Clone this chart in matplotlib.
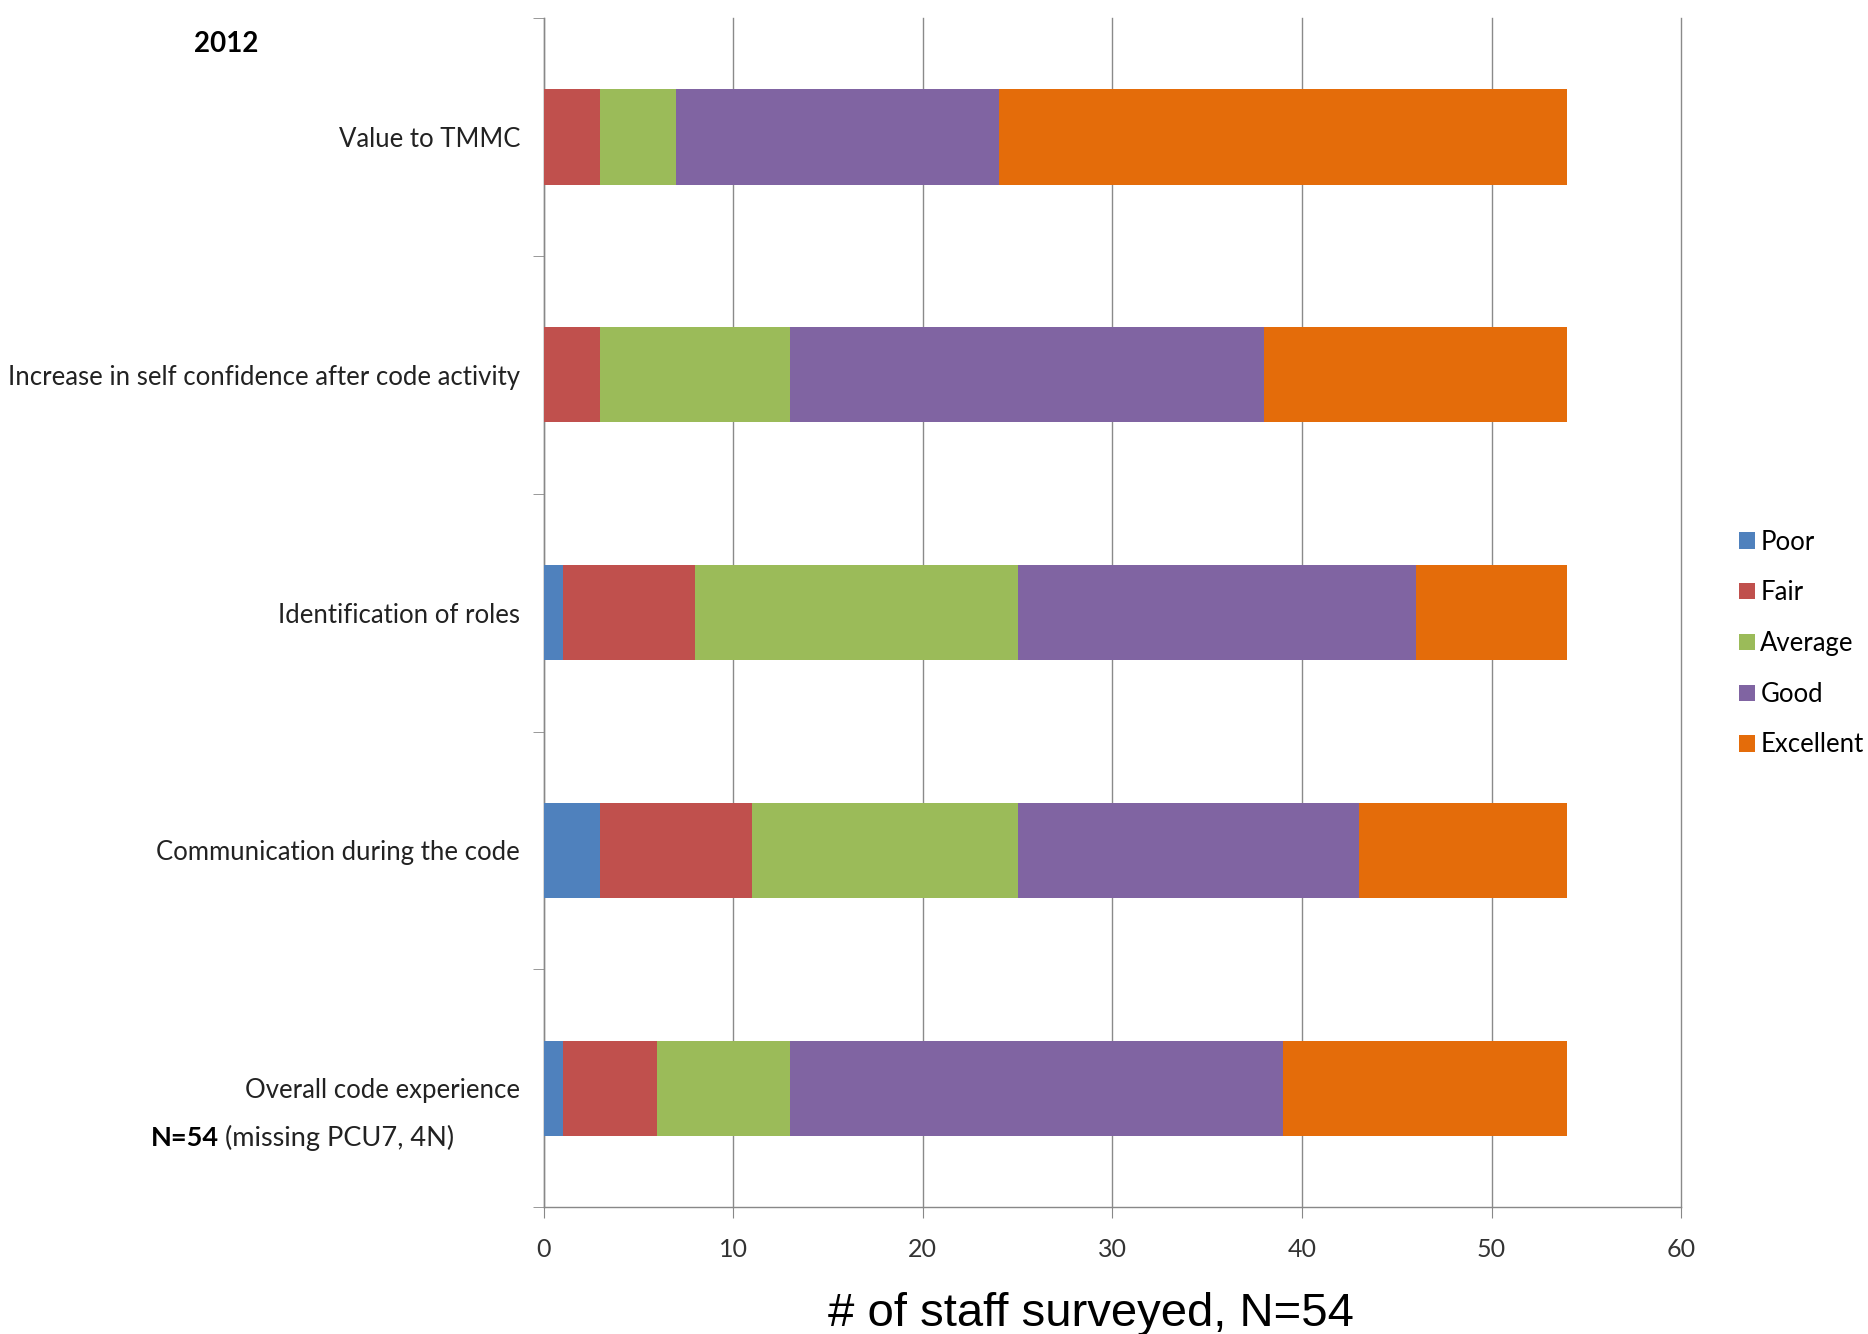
import matplotlib
matplotlib.use("Agg")
import matplotlib.pyplot as plt
import numpy as np

categories = ["Value to TMMC",
              "Increase in self confidence after code activity",
              "Identification of roles",
              "Communication during the code",
              "Overall code experience"]
series_names = ["Poor", "Fair", "Average", "Good", "Excellent"]
poor = [0, 0, 1, 3, 1]
fair = [3, 3, 7, 8, 5]
average = [4, 10, 17, 14, 7]
good = [17, 25, 21, 18, 26]
excellent = [30, 16, 8, 11, 15]
colors = ["#4F81BD", "#C0504D", "#9BBB59", "#8064A2", "#E46C0A"]
xticks = [0, 10, 20, 30, 40, 50, 60]

plt.rcParams['font.family'] = ['Lato', 'DejaVu Sans']

fig = plt.figure(figsize=(18.68, 13.34), dpi=100)
ax = fig.add_axes([0.291, 0.095, 0.609, 0.8915])

ypos = np.arange(len(categories))[::-1]
left = np.zeros(len(categories))
for name, vals, c in zip(series_names, [poor, fair, average, good, excellent], colors):
    ax.barh(ypos, vals, left=left, height=0.4, color=c, label=name, zorder=3)
    left += np.array(vals)

ax.set_xlim(0, 60)
ax.set_ylim(-0.5, len(categories) - 0.5)
ax.set_xticks(xticks)
ax.set_xticklabels([str(t) for t in xticks], fontsize=18, color="#333333")
ax.set_yticks(ypos)
ax.set_yticklabels(categories, fontsize=18.5, color="#222222")
ax.set_yticks(np.arange(-0.5, len(categories), 1.0), minor=True)
ax.tick_params(axis='y', which='major', length=0, pad=17)
ax.tick_params(axis='y', which='minor', length=8, color="#888888", direction='out')
ax.tick_params(axis='x', which='major', length=8, color="#888888", direction='out', pad=14)
ax.grid(axis='x', color="#8a8a8a", linewidth=1.0, zorder=0)
for gl in ax.get_xgridlines():
    gl.set_clip_on(False)
for s in ['top', 'right']:
    ax.spines[s].set_visible(False)
for s in ['left', 'bottom']:
    ax.spines[s].set_color("#888888")
    ax.spines[s].set_linewidth(1.0)

ax.set_xlabel("# of staff surveyed, N=54", fontsize=34, family=['Liberation Sans', 'DejaVu Sans'])
ax.xaxis.set_label_coords(0.481, -0.071)

fig.text(226 / 1868, 1 - 44 / 1334, "2012", fontsize=20, fontweight='bold', ha='center', va='center')
t1 = fig.text(151 / 1868, 1 - 1138 / 1334, "N=54", fontsize=19.5, fontweight='bold', ha='left', va='center')
fig.canvas.draw()
bb = t1.get_window_extent()
fig.text(bb.x1 / fig.bbox.width + 0.003, 1 - 1138 / 1334, "(missing PCU7, 4N)", fontsize=19.5,
         ha='left', va='center', color="#222222")

leg = ax.legend(loc='center left', bbox_to_anchor=(1.051, 0.474), frameon=False,
                fontsize=18.5, handlelength=0.6, handleheight=0.6, handletextpad=0.22,
                labelspacing=1.0, borderaxespad=0, borderpad=0)

fig.savefig("out.png", dpi=100)
